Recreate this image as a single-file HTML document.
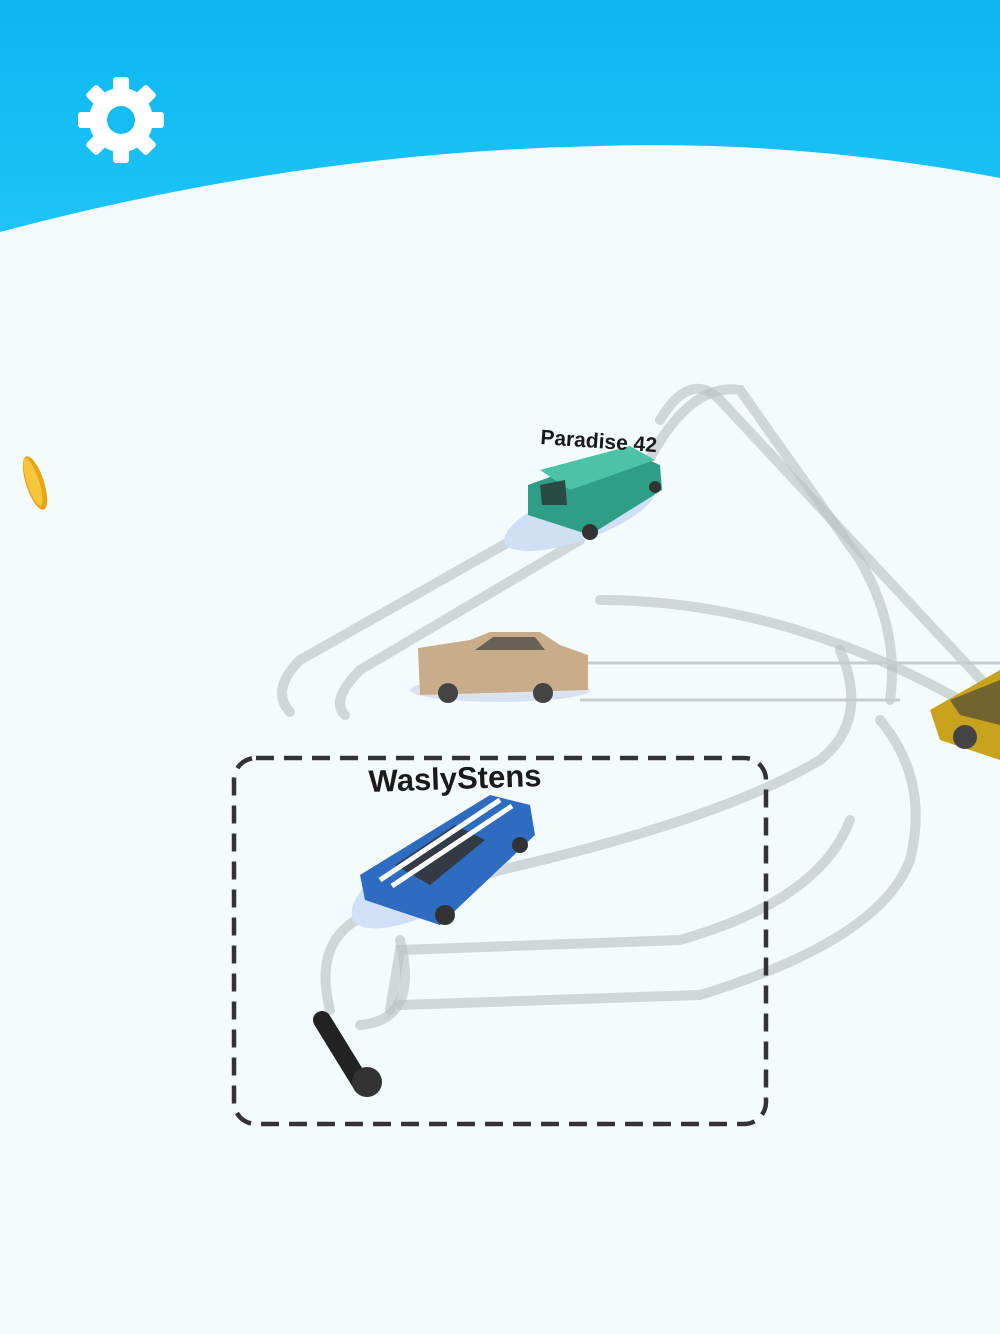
<!DOCTYPE html>
<html><head><meta charset="utf-8"><style>
html,body{margin:0;padding:0;width:1000px;height:1334px;overflow:hidden;background:#f3fbfd}
svg{display:block}
text{font-family:"Liberation Sans",sans-serif;font-weight:bold;fill:#1a1a1a}
</style></head><body>
<svg width="1000" height="1334" viewBox="0 0 1000 1334">
<defs><linearGradient id="sky" x1="0" y1="0" x2="0" y2="1"><stop offset="0" stop-color="#0bb6f3"/><stop offset="1" stop-color="#1ec4f6"/></linearGradient></defs>
<rect width="1000" height="1334" fill="#f3fbfd"/>
<path d="M0 0H1000V178Q800 140 600 146Q300 152 0 232Z" fill="url(#sky)"/>
<!-- gear -->
<g transform="translate(121,120)" fill="#fff">
<circle r="32"/>
<g id="t"><rect x="-8" y="-43" width="16" height="18" rx="3"/></g>
<use href="#t" transform="rotate(45)"/><use href="#t" transform="rotate(90)"/><use href="#t" transform="rotate(135)"/>
<use href="#t" transform="rotate(180)"/><use href="#t" transform="rotate(225)"/><use href="#t" transform="rotate(270)"/><use href="#t" transform="rotate(315)"/>
<circle r="14" fill="#16bdf5"/>
</g>
<!-- coin -->
<ellipse cx="35" cy="483" rx="9" ry="28" transform="rotate(-18 35 483)" fill="#e8a316"/>
<ellipse cx="33" cy="482" rx="6" ry="25" transform="rotate(-18 33 482)" fill="#f7c63a"/>
<!-- trails -->
<g fill="none" stroke="#b9bfc0" stroke-opacity="0.6" stroke-width="10" stroke-linecap="round">
<path d="M530 530 L300 660 Q270 690 290 712"/>
<path d="M580 540 L360 670 Q330 700 345 715"/>
<path d="M660 420 Q690 370 720 400 L1000 700"/>
<path d="M630 500 Q680 380 740 390 L860 560 Q900 630 890 700"/>
<path d="M600 600 Q780 600 960 700"/>
<path d="M330 1010 Q310 930 380 910 L500 870 Q720 820 820 760 Q870 720 840 650"/>
<path d="M390 1010 L400 950 L680 940 Q820 900 850 820"/>
<path d="M400 1005 L700 995 Q880 940 910 860 Q930 780 880 720"/>
<path d="M360 1025 Q420 1020 400 940"/>
</g>
<g stroke="#c8cccc" stroke-width="3"><line x1="580" y1="663" x2="1000" y2="663"/><line x1="580" y1="700" x2="900" y2="700"/></g>
<!-- black trail -->
<line x1="322" y1="1020" x2="362" y2="1085" stroke="#222" stroke-width="18" stroke-linecap="round"/>
<circle cx="367" cy="1082" r="15" fill="#333"/>
<!-- dashed box -->
<rect x="234" y="758" width="532" height="366" rx="22" fill="none" stroke="#333" stroke-width="4.5" stroke-dasharray="18 10"/>
<!-- green van -->
<ellipse cx="580" cy="515" rx="80" ry="25" fill="#cfe0f5" transform="rotate(-20 580 515)"/>
<path d="M528 485 L625 450 L660 465 L662 490 L590 535 L528 515 Z" fill="#2e9e86"/>
<path d="M540 470 L630 446 L655 460 L570 490 Z" fill="#4cc2a6"/>
<path d="M540 485 L565 480 L567 505 L542 505 Z" fill="#2a4a44"/>
<circle cx="590" cy="532" r="8" fill="#333"/><circle cx="655" cy="487" r="6" fill="#333"/>
<!-- tan car -->
<ellipse cx="500" cy="690" rx="90" ry="12" fill="#d9e3f0"/>
<path d="M418 648 L470 640 L490 632 L540 632 L560 645 L588 655 L588 690 L420 695 Z" fill="#c9ad8a"/>
<path d="M475 650 L493 637 L535 637 L545 650 Z" fill="#6b6058"/>
<circle cx="448" cy="693" r="10" fill="#444"/><circle cx="543" cy="693" r="10" fill="#444"/>
<!-- yellow car -->
<path d="M930 710 L1000 670 L1000 760 L940 740 Z" fill="#c9a31e"/>
<path d="M950 700 L1000 680 L1000 725 L960 715 Z" fill="#3a3a3a" opacity=".6"/>
<circle cx="965" cy="737" r="12" fill="#444"/>
<!-- blue car -->
<ellipse cx="440" cy="870" rx="100" ry="35" fill="#cfe0f7" transform="rotate(-30 440 870)"/>
<path d="M360 875 L490 795 L530 805 L535 835 L440 925 L365 900 Z" fill="#2d6cc0"/>
<path d="M395 865 L455 825 L485 840 L430 885 Z" fill="#333a44"/>
<path d="M380 880 L500 800 M392 886 L512 806" stroke="#fff" stroke-width="5"/>
<circle cx="445" cy="915" r="10" fill="#333"/><circle cx="520" cy="845" r="8" fill="#333"/>
<!-- labels -->
<text x="540" y="444" font-size="21" transform="rotate(4 540 444)">Paradise 42</text>
<text x="369" y="792" font-size="31" transform="rotate(-2 369 792)">WaslyStens</text>
</svg>
</body></html>
